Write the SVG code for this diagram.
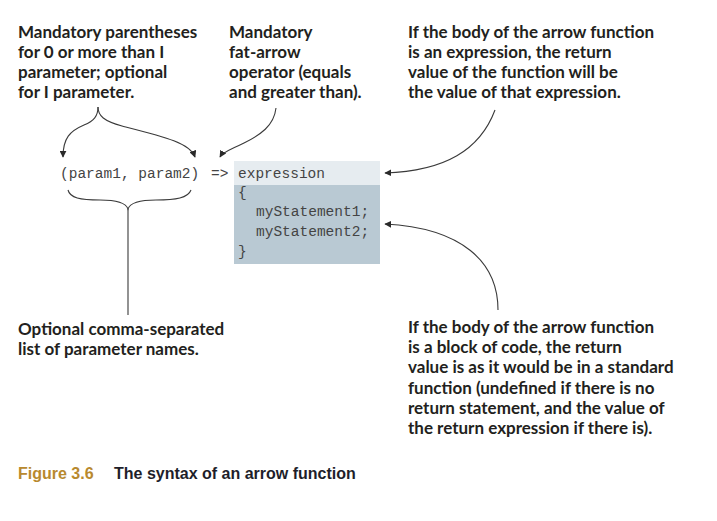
<svg xmlns="http://www.w3.org/2000/svg" width="717" height="521" viewBox="0 0 717 521">
<style>
.lbl{font-family:Lato,"Open Sans","DejaVu Sans",sans-serif;font-weight:700;font-size:17px;fill:#231f20}
.code{font-family:"Liberation Mono","Courier New",monospace;font-size:14.5px;fill:#444444}
.ln{fill:none;stroke:#3a3a3a;stroke-width:1.1}
.cap{font-family:"Liberation Sans",Arial,sans-serif;font-weight:700;font-size:16px}
</style>
<defs>
<marker id="ah" viewBox="0 0 10 10" refX="9" refY="5" markerWidth="7" markerHeight="7" orient="auto" markerUnits="userSpaceOnUse">
<path d="M0,0 L10,5 L0,10 z" fill="#2a2a2a"/>
</marker>
</defs>
<rect width="717" height="521" fill="#ffffff"/>

<g id="code-block">
<rect x="234" y="161" width="146" height="24" fill="#e6ecf0"/>
<rect x="234" y="185" width="146" height="79" fill="#b9c9d3"/>
<text class="code" x="60" y="178">(param1, param2)</text>
<text class="code" x="211" y="178">=&gt;</text>
<text class="code" x="238" y="178">expression</text>
<text class="code" x="238" y="197">{</text>
<text class="code" x="256" y="216">myStatement1;</text>
<text class="code" x="256" y="236">myStatement2;</text>
<text class="code" x="238" y="256">}</text>
</g>

<g id="label-parens">
<text class="lbl" x="18" y="38">Mandatory parentheses</text>
<text class="lbl" x="18" y="58">for 0 or more than I</text>
<text class="lbl" x="18" y="78">parameter; optional</text>
<text class="lbl" x="18" y="98">for I parameter.</text>
</g>

<g id="label-fatarrow">
<text class="lbl" x="229" y="38">Mandatory</text>
<text class="lbl" x="229" y="58">fat-arrow</text>
<text class="lbl" x="229" y="78">operator (equals</text>
<text class="lbl" x="229" y="98">and greater than).</text>
</g>

<g id="label-expression">
<text class="lbl" x="408" y="38">If the body of the arrow function</text>
<text class="lbl" x="408" y="58">is an expression, the return</text>
<text class="lbl" x="408" y="78">value of the function will be</text>
<text class="lbl" x="408" y="98">the value of that expression.</text>
</g>

<g id="label-params">
<text class="lbl" x="18" y="335">Optional comma-separated</text>
<text class="lbl" x="18" y="355">list of parameter names.</text>
</g>

<g id="label-block">
<text class="lbl" x="408" y="333">If the body of the arrow function</text>
<text class="lbl" x="408" y="353">is a block of code, the return</text>
<text class="lbl" x="408" y="373">value is as it would be in a standard</text>
<text class="lbl" x="408" y="394">function (undefined if there is no</text>
<text class="lbl" x="408" y="414">return statement, and the value of</text>
<text class="lbl" x="408" y="434">the return expression if there is).</text>
</g>

<g id="connectors">
<path class="ln" d="M98,107 C98,116 94,121 84,125 C70,131 63,138 63,157" marker-end="url(#ah)"/>
<path class="ln" d="M98,107 C98,116 104,121 122,126 C165,137 190,143 195,157" marker-end="url(#ah)"/>
<path class="ln" d="M276,108 C274,126 260,135 244,143 C230,150 223,152 220,157" marker-end="url(#ah)"/>
<path class="ln" d="M495,110 C480,150 445,171 385,173" marker-end="url(#ah)"/>
<path class="ln" d="M498,310 C498,262 462,228 385,224" marker-end="url(#ah)"/>
<path class="ln" d="M68,190 C70,198 80,200 100,200 C118,200 126,203 128,209 C130,203 138,200 156,200 C176,200 188,198 191,190"/>
<path class="ln" d="M128,209 L128,315"/>
</g>

<g id="caption">
<text class="cap" x="18" y="479" fill="#b8892e">Figure 3.6</text>
<text class="cap" x="114" y="479" fill="#1e1e2a">The syntax of an arrow function</text>
</g>
</svg>
